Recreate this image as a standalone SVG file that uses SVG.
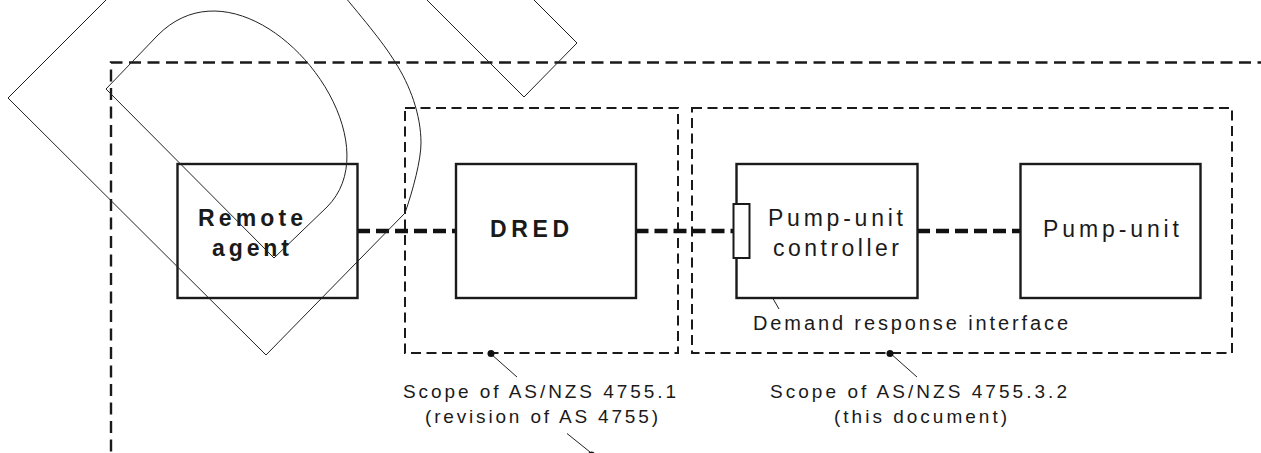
<svg xmlns="http://www.w3.org/2000/svg" width="1261" height="453" viewBox="0 0 1261 453">
<defs>
<style>
.box{fill:#fff;stroke:#1a1a1a;stroke-width:2.4}
.scope{fill:none;stroke:#1a1a1a;stroke-width:2;stroke-dasharray:10 5.5}
.outer{fill:none;stroke:#1a1a1a;stroke-width:2.4;stroke-dasharray:12 6.5}
.conn{fill:none;stroke:#111;stroke-width:4.5;stroke-dasharray:13 6}
.thin{fill:none;stroke:#222;stroke-width:1}
.lead{fill:none;stroke:#222;stroke-width:1}
.dot{fill:#111}
.bold{font-family:"Liberation Sans",Arial,sans-serif;font-weight:bold;font-size:23px;fill:#1a1a1a}
.reg{font-family:"Liberation Sans",Arial,sans-serif;font-size:23px;fill:#1a1a1a}
.lbl{font-family:"Liberation Sans",Arial,sans-serif;font-size:19px;fill:#1a1a1a}
.lbl2{font-family:"Liberation Sans",Arial,sans-serif;font-size:20px;fill:#1a1a1a}
</style>
<marker id="arr" viewBox="0 0 10 6" refX="10" refY="3" markerWidth="10" markerHeight="6" markerUnits="userSpaceOnUse" orient="auto">
<path d="M0,0 L10,3 L0,6 Z" fill="#111"/>
</marker>
</defs>
<rect width="1261" height="453" fill="#fff"/>

<g id="scopes">
<path id="outer-scope" class="outer" d="M111,470 V62.5 H1275"/>
<rect id="scope-4755-1" class="scope" x="405" y="108" width="273" height="245"/>
<rect id="scope-4755-3-2" class="scope" x="692" y="108" width="540" height="245"/>
</g>

<g id="connectors">
<line class="conn" x1="357" y1="231" x2="456" y2="231"/>
<line class="conn" x1="635.5" y1="231" x2="733" y2="231"/>
<line class="conn" x1="917" y1="231" x2="1020.5" y2="231"/>
<line class="lead" x1="779" y1="309" x2="750" y2="258.5" marker-end="url(#arr)"/>
<line class="lead" x1="491" y1="354" x2="517" y2="377"/>
<circle class="dot" cx="491" cy="353.5" r="3.5"/>
<line class="lead" x1="890" y1="353" x2="917" y2="377"/>
<circle class="dot" cx="890" cy="353.5" r="3.5"/>
<line class="lead" x1="567" y1="433.5" x2="590" y2="452"/>
<circle class="dot" cx="591.5" cy="455" r="3.5"/>
</g>

<g id="remote-agent">
<rect class="box" x="177.5" y="164" width="180" height="134"/>
<text class="bold" x="198" y="226" textLength="105" lengthAdjust="spacing">Remote</text>
<text class="bold" x="212" y="256" textLength="77" lengthAdjust="spacing">agent</text>
</g>

<g id="dred">
<rect class="box" x="456" y="164" width="180" height="134"/>
<text class="bold" x="490" y="237" textLength="79" lengthAdjust="spacing">DRED</text>
</g>

<g id="pump-unit-controller">
<rect class="box" x="736.5" y="164" width="181" height="134"/>
<text class="reg" x="768" y="226" textLength="135" lengthAdjust="spacing">Pump-unit</text>
<text class="reg" x="773" y="256" textLength="126" lengthAdjust="spacing">controller</text>
</g>

<g id="demand-response-interface">
<rect class="box" x="733.5" y="204" width="16" height="54" style="stroke-width:2"/>
</g>

<g id="pump-unit">
<rect class="box" x="1020.5" y="164" width="180" height="134"/>
<text class="reg" x="1043" y="237" textLength="136" lengthAdjust="spacing">Pump-unit</text>
</g>

<g id="labels">
<text class="lbl2" x="753" y="330" textLength="315" lengthAdjust="spacing">Demand response interface</text>
<text class="lbl" x="403" y="398" textLength="273" lengthAdjust="spacing">Scope of AS/NZS 4755.1</text>
<text class="lbl" x="425" y="423" textLength="233" lengthAdjust="spacing">(revision of AS 4755)</text>
<text class="lbl" x="770" y="398" textLength="297" lengthAdjust="spacing">Scope of AS/NZS 4755.3.2</text>
<text class="lbl" x="834" y="423" textLength="173" lengthAdjust="spacing">(this document)</text>
</g>

<g id="sketch-strokes">
<path class="thin" d="M116,-10 L8,98 L266,355 L405,213 C413,190 421,160 421,143 C421,115 410,85 395,62 C383,42 360,15 335,-15"/>
<path class="thin" d="M106,89 L158,35 C248,-55 402,132 327,207 L274,258 Z"/>
<path class="thin" d="M427,0 L524,97 L577,43 L533,-1"/>
</g>
</svg>
